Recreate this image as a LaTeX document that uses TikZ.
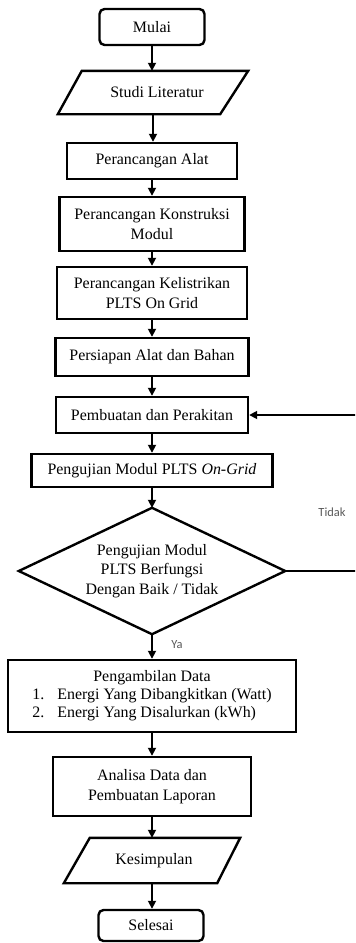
\documentclass[tikz,border=0pt]{standalone}
\usepackage{fontspec}
\setmainfont{Liberation Serif}
\newfontfamily\labfont{Carlito}
\usetikzlibrary{arrows.meta}
\begin{document}
\begin{tikzpicture}[x=1bp,y=-1bp,
  every node/.style={font=\fontsize{16}{19.5}\selectfont, inner sep=0pt, align=center, text=black},
  boxline/.style={draw=black, line width=2.4bp},
  procbox/.style={boxline, rectangle},
  termbox/.style={boxline, rectangle, rounded corners=5bp},
  flow/.style={line width=1.7bp, -{Triangle[length=8bp,width=8bp]}},
  lab/.style={font=\labfont\fontsize{12.5}{14}\selectfont, text=black!65}]
\useasboundingbox (0,0) rectangle (355,943);
\clip (0,0) rectangle (355,943);

\node[termbox, minimum width=105bp, minimum height=36bp] (mulai) at (152,27) {Mulai};

\node[minimum width=190bp, minimum height=43bp] (studi) at (153,92.5) {\hspace*{8bp}Studi Literatur};
\draw[boxline] ([xshift=24bp]studi.north west) -- (studi.north east) -- ([xshift=-28bp]studi.south east) -- (studi.south west) -- cycle;

\node[procbox, minimum width=170bp, minimum height=36bp] (alat) at (152,161) {Perancangan Alat};
\node[procbox, minimum width=185bp, minimum height=54bp] (konst) at (152,224) {Perancangan Konstruksi\\Modul};
\node[procbox, minimum width=190bp, minimum height=52bp] (kelis) at (152,293) {Perancangan Kelistrikan\\PLTS On Grid};
\node[procbox, minimum width=193bp, minimum height=38bp] (persi) at (152,357) {Persiapan Alat dan Bahan};
\node[procbox, minimum width=192bp, minimum height=36bp] (pemb) at (152,415) {Pembuatan dan Perakitan};
\node[procbox, minimum width=241bp, minimum height=33bp] (uji) at (152,470.5) {Pengujian Modul PLTS \textit{On-Grid}};

\node[minimum width=266bp, minimum height=126bp] (dec) at (152,571) {Pengujian Modul\\PLTS Berfungsi\\Dengan Baik / Tidak};
\draw[boxline] (dec.north) -- (dec.east) -- (dec.south) -- (dec.west) -- cycle;

\node[procbox, minimum width=288bp, minimum height=72bp] (ambil) at (152,696)
  {\begin{tabular}{@{}l@{\hspace{13bp}}l@{}}
   \multicolumn{2}{c}{Pengambilan Data}\\[-1.5bp]
   1. & Energi Yang Dibangkitkan (Watt)\\[-1.5bp]
   2. & Energi Yang Disalurkan (kWh)
   \end{tabular}};

\node[procbox, minimum width=198bp, minimum height=59bp] (anal) at (152,786.5) {Analisa Data dan\\Pembuatan Laporan};

\node[minimum width=176bp, minimum height=45bp] (kesim) at (152,860.5) {\hspace*{4bp}Kesimpulan};
\draw[boxline] ([xshift=26bp]kesim.north west) -- (kesim.north east) -- ([xshift=-23bp]kesim.south east) -- (kesim.south west) -- cycle;

\node[termbox, minimum width=105bp, minimum height=31bp] (sel) at (151,925.5) {Selesai};

\coordinate (r1) at (362,571);
\coordinate (r2) at (362,415);

\draw[flow] (mulai.south) -- (mulai.south |- studi.north);
\draw[flow] (studi.south) -- (studi.south |- alat.north);
\draw[flow] (alat.south) -- (konst.north);
\draw[flow] (konst.south) -- (kelis.north);
\draw[flow] (kelis.south) -- (persi.north);
\draw[flow] (persi.south) -- (pemb.north);
\draw[flow] (pemb.south) -- (uji.north);
\draw[flow] (uji.south) -- (dec.north);
\draw[flow] (dec.south) -- (ambil.north);
\draw[flow] (ambil.south) -- (anal.north);
\draw[flow] (anal.south) -- (kesim.south |- kesim.north);
\draw[flow] (kesim.south) -- (sel.north -| kesim.south);
\draw[flow] (dec.east) -- (r1) -- (r2) -- (pemb.east);

\node[lab] (tidak) at (332,512) {Tidak};
\node[lab] (ya) at (177,645) {Ya};
\end{tikzpicture}
\end{document}
